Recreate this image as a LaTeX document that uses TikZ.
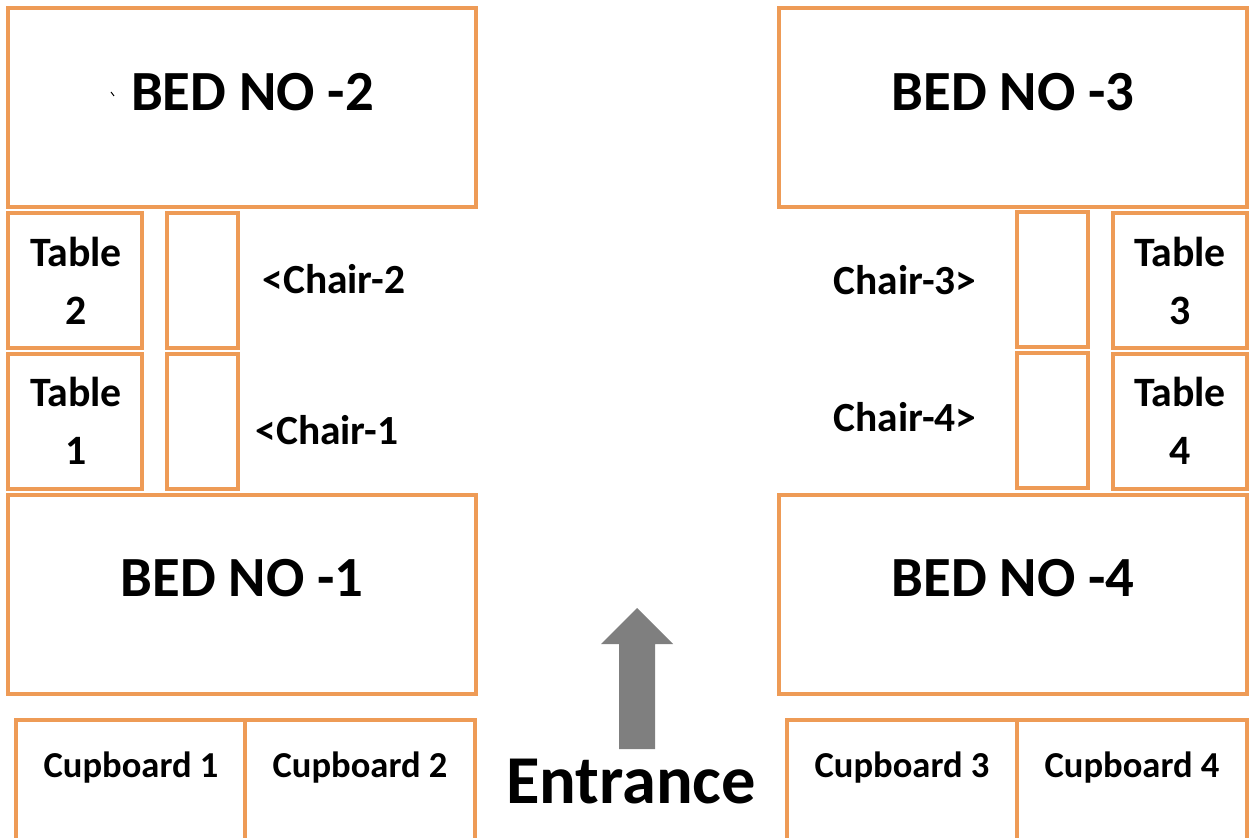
\documentclass[tikz,border=0pt]{standalone}
\usepackage{fontspec}
\setmainfont{Carlito}
\definecolor{boxorange}{HTML}{EE9B56}
\definecolor{arrowgray}{HTML}{7F7F7F}
\tikzset{
  room/.style={draw=boxorange, line width=0.09cm, rectangle, inner sep=0pt},
  bedname/.style={font=\bfseries\fontsize{32.3}{38}\selectfont, inner sep=0pt},
  tablename/.style={font=\bfseries\fontsize{23.8}{33}\selectfont, align=center, inner sep=0pt},
  chairname/.style={font=\bfseries\fontsize{23.6}{28}\selectfont, inner sep=0pt},
  cupname/.style={font=\bfseries\fontsize{20.8}{25}\selectfont, inner sep=0pt},
}
\begin{document}
\begin{tikzpicture}[x=0.02cm, y=-0.02cm]
  \useasboundingbox (0,0) rectangle (1249,838);
  % beds
  \node[room, minimum width=9.36cm, minimum height=3.98cm] (bedB) at (242,107.5) {};
  \node[room, minimum width=9.36cm, minimum height=3.98cm] (bedC) at (1013,107.5) {};
  \node[room, minimum width=9.36cm, minimum height=3.98cm] (bedA) at (242,594.5) {};
  \node[room, minimum width=9.36cm, minimum height=3.98cm] (bedD) at (1013,594.5) {};
  \node[bedname] (bedBtext) at (252.5,92) {BED NO -2};
  \node[bedname] (bedCtext) at (1013,92) {BED NO -3};
  \node[bedname] (bedAtext) at (242,578) {BED NO -1};
  \node[bedname] (bedDtext) at (1013,578) {BED NO -4};
  \draw[line width=0.02cm] (111,92) -- (114,96);
  % tables
  \node[room, minimum width=2.68cm, minimum height=2.7cm] (tableB) at (75,280.5) {};
  \node[room, minimum width=2.68cm, minimum height=2.7cm] (tableA) at (75,421.5) {};
  \node[room, minimum width=2.68cm, minimum height=2.7cm] (tableC) at (1180,280.5) {};
  \node[room, minimum width=2.68cm, minimum height=2.7cm] (tableD) at (1180,421.5) {};
  \node[tablename] (tableBtext) at (76,281) {Table\\2};
  \node[tablename] (tableAtext) at (76,421) {Table\\1};
  \node[tablename] (tableCtext) at (1180,281) {Table\\3};
  \node[tablename] (tableDtext) at (1180,421) {Table\\4};
  % chairs
  \node[room, minimum width=1.42cm, minimum height=2.7cm] (chairB) at (202.5,280.5) {};
  \node[room, minimum width=1.42cm, minimum height=2.7cm] (chairA) at (202.5,421.5) {};
  \node[room, minimum width=1.42cm, minimum height=2.7cm] (chairC) at (1052.5,279.5) {};
  \node[room, minimum width=1.42cm, minimum height=2.7cm] (chairD) at (1052.5,420.5) {};
  \node[chairname] (chairBtext) at (334,279) {<Chair-2};
  \node[chairname] (chairAtext) at (327,430) {<Chair-1};
  \node[chairname] (chairCtext) at (905,280) {Chair-3>};
  \node[chairname] (chairDtext) at (905,417) {Chair-4>};
  % cupboards
  \node[room, minimum width=4.58cm, minimum height=2.5cm] (cupA) at (130.5,782.5) {};
  \node[room, minimum width=4.6cm, minimum height=2.5cm] (cupB) at (360,782.5) {};
  \node[room, minimum width=4.6cm, minimum height=2.5cm] (cupC) at (902,782.5) {};
  \node[room, minimum width=4.6cm, minimum height=2.5cm] (cupD) at (1132,782.5) {};
  \node[cupname] (cupAtext) at (131,768) {Cupboard 1};
  \node[cupname] (cupBtext) at (360,768) {Cupboard 2};
  \node[cupname] (cupCtext) at (902,768) {Cupboard 3};
  \node[cupname] (cupDtext) at (1132,768) {Cupboard 4};
  % entrance
  \fill[arrowgray] (637,608) -- (673,644) -- (655,644) -- (655,749) -- (619,749) -- (619,644) -- (601,644) -- cycle;
  \node[font=\bfseries\fontsize{39}{46}\selectfont, inner sep=0pt] (entrance) at (631,782) {Entrance};
\end{tikzpicture}
\end{document}
